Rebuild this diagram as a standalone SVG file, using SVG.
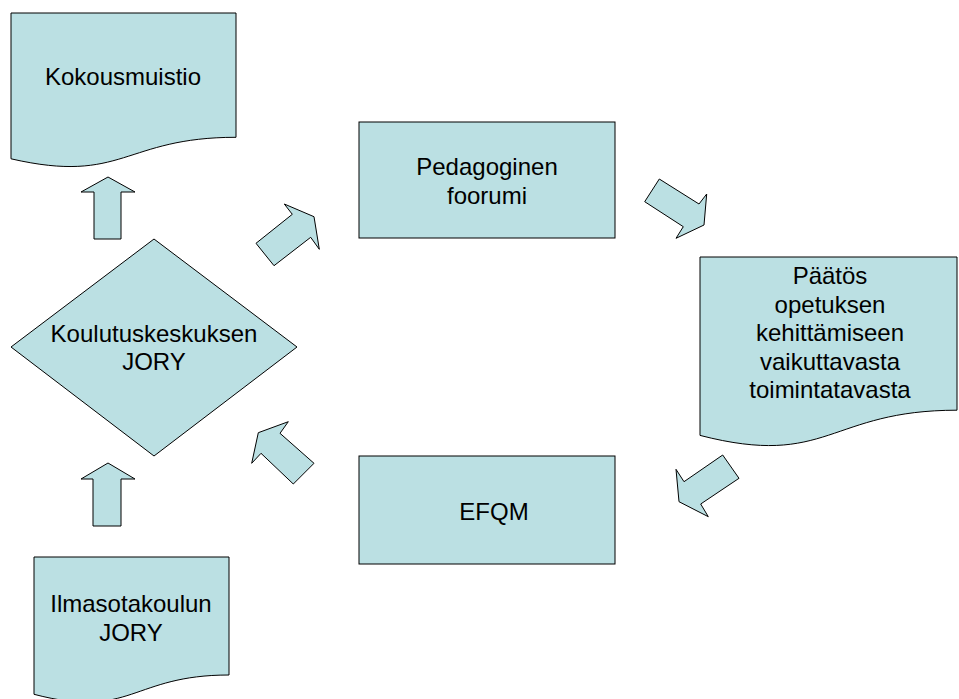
<svg xmlns="http://www.w3.org/2000/svg" width="959" height="699" viewBox="0 0 959 699">
  <style>
    .shape { fill: #BBE0E3; stroke: #000000; stroke-width: 1; stroke-linejoin: miter; }
    .label { font-family: "Liberation Sans", Arial, sans-serif; font-size: 24px; fill: #000000; text-anchor: middle; }
  </style>
  <rect width="959" height="699" fill="#ffffff"/>

  <!-- process flow arrows -->
  <g id="connectors">
    <polygon class="shape" points="108,177 135,192 121,192 121,239 94,239 94,192 81,192"/>
    <polygon class="shape" points="108,463 135,479 121,479 121,526 93,526 93,479 81,479"/>
    <polygon class="shape" points="314,216.7 319.3,249.3 310.7,237.3 274,265.7 256,243.3 292.3,214.3 284.3,204"/>
    <polygon class="shape" points="659.3,179 699,204 706.7,194 704,225 676,238.3 683.3,226.7 644.7,201.7"/>
    <polygon class="shape" points="722.7,455 739,478.3 700.7,504 708.3,516.7 679,501.7 676,469.3 684,481.7"/>
    <polygon class="shape" points="288.3,421.7 258.3,432.7 251.7,463.3 261,453.3 293.3,484 314,463.3 280,433.3"/>
  </g>

  <g id="kokousmuistio">
    <path class="shape" d="M11,13 H236 V137.3 C123.5,137.3 123.5,184.7 11,158.8 Z"/>
    <text class="label" x="123" y="85">Kokousmuistio</text>
  </g>

  <g id="koulutuskeskuksen-jory">
    <polygon class="shape" points="154,239 297,347 154,456 11,347"/>
    <text class="label" x="154" y="342">Koulutuskeskuksen</text>
    <text class="label" x="154" y="370">JORY</text>
  </g>

  <g id="pedagoginen-foorumi">
    <rect class="shape" x="359" y="122" width="256" height="116"/>
    <text class="label" x="487" y="175">Pedagoginen</text>
    <text class="label" x="487" y="204">foorumi</text>
  </g>

  <g id="paatos">
    <path class="shape" d="M700,257 H957 V410.2 C828.5,410.2 828.5,468.5 700,435.4 Z"/>
    <text class="label" x="830" y="284">Päätös</text>
    <text class="label" x="830" y="312.5">opetuksen </text>
    <text class="label" x="830" y="341">kehittämiseen</text>
    <text class="label" x="830" y="369.5">vaikuttavasta</text>
    <text class="label" x="830" y="398">toimintatavasta</text>
  </g>

  <g id="efqm">
    <rect class="shape" x="359" y="456" width="256" height="108"/>
    <text class="label" x="494" y="520">EFQM</text>
  </g>

  <g id="ilmasotakoulun-jory">
    <path class="shape" d="M34,557 H229 V675 C131.5,675 131.5,719.8 34,694.3 Z"/>
    <text class="label" x="131" y="612">Ilmasotakoulun</text>
    <text class="label" x="131" y="641">JORY</text>
  </g>
</svg>
